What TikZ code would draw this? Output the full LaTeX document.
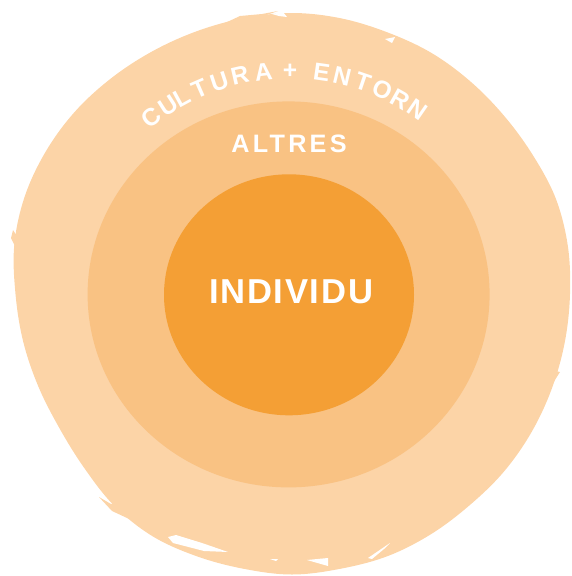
\documentclass[tikz,border=0pt]{standalone}
\usepackage{fontspec}
\setmainfont{Liberation Sans}
\newfontfamily\indfont[LetterSpace=5]{Liberation Sans}
\newfontfamily\altfont[LetterSpace=13]{Liberation Sans}
\newfontfamily\arcfont{Liberation Sans}
\usetikzlibrary{shapes.geometric}
\definecolor{outerc}{HTML}{FCD4A7}
\definecolor{midc}{HTML}{F9C283}
\definecolor{innerc}{HTML}{F49F35}
\tikzset{
  ring/.style={ellipse, inner sep=0pt, draw=none},
  lbl/.style={text=white, inner sep=0pt},
  arcletter/.style={text=white, inner sep=0pt, anchor=base, font=\arcfont\bfseries\fontsize{24.5}{28}\selectfont},
}
\begin{document}
\begin{tikzpicture}[x=1pt,y=-1pt]
\useasboundingbox (0,0) rectangle (572,576);
% outer rough disc (polar outline around (292,294))
\fill[outerc] plot[smooth cycle, tension=0.6] coordinates {
 ({292+278*cos(0)},{294-278*sin(0)})
 ({292+280*cos(10)},{294-280*sin(10)})
 ({292+280.5*cos(20)},{294-280.5*sin(20)})
 ({292+278*cos(30)},{294-278*sin(30)})
 ({292+277*cos(40)},{294-277*sin(40)})
 ({292+277.5*cos(50)},{294-277.5*sin(50)})
 ({292+278.5*cos(60)},{294-278.5*sin(60)})
 ({292+278.5*cos(70)},{294-278.5*sin(70)})
 ({292+280*cos(80)},{294-280*sin(80)})
 ({292+281*cos(90)},{294-281*sin(90)})
 ({292+280*cos(100)},{294-280*sin(100)})
 ({292+279.5*cos(110)},{294-279.5*sin(110)})
 ({292+280*cos(120)},{294-280*sin(120)})
 ({292+281.5*cos(130)},{294-281.5*sin(130)})
 ({292+283.5*cos(140)},{294-283.5*sin(140)})
 ({292+284.5*cos(150)},{294-284.5*sin(150)})
 ({292+284.5*cos(160)},{294-284.5*sin(160)})
 ({292+282*cos(170)},{294-282*sin(170)})
 ({292+276.5*cos(180)},{294-276.5*sin(180)})
 ({292+273*cos(190)},{294-273*sin(190)})
 ({292+270*cos(200)},{294-270*sin(200)})
 ({292+268.5*cos(210)},{294-268.5*sin(210)})
 ({292+271*cos(220)},{294-271*sin(220)})
 ({292+276.5*cos(230)},{294-276.5*sin(230)})
 ({292+279.5*cos(240)},{294-279.5*sin(240)})
 ({292+279*cos(250)},{294-279*sin(250)})
 ({292+279*cos(260)},{294-279*sin(260)})
 ({292+280.5*cos(270)},{294-280.5*sin(270)})
 ({292+279*cos(280)},{294-279*sin(280)})
 ({292+279*cos(290)},{294-279*sin(290)})
 ({292+277.5*cos(300)},{294-277.5*sin(300)})
 ({292+276*cos(310)},{294-276*sin(310)})
 ({292+276.5*cos(320)},{294-276.5*sin(320)})
 ({292+276.5*cos(330)},{294-276.5*sin(330)})
 ({292+276.5*cos(340)},{294-276.5*sin(340)})
 ({292+277*cos(350)},{294-277*sin(350)})};
% rough brush streaks
\fill[outerc] (99,497) -- (111,504) -- (117,502) -- (150,521) -- (140,524) -- (112,511) -- cycle;
\fill[outerc] (225,23) -- (240,16) -- (262,14) -- (278,11) -- (258,18) -- cycle;
\fill[outerc] (15,246) -- (11,238) -- (13,230) -- (17,236) -- cycle;
\fill[outerc] (560,372) -- (553,383) -- (556,371) -- cycle;
\fill[white] (168,537) -- (176,535) -- (202,543) -- (228,552) -- (204,551) -- (173,543) -- cycle;
\fill[white] (270,559) -- (278,559) -- (276,561) -- cycle;
\fill[white] (307,560) -- (328,558) -- (328,566) -- cycle;
\fill[white] (368,558) -- (390,543) -- (384,549) -- (372,559) -- cycle;
\fill[white] (385,39) -- (395,37) -- (392,43) -- cycle;
\fill[white] (272,14) -- (283,12) -- (287,17) -- (279,16) -- cycle;
% middle and inner discs
\node[ring, fill=midc, minimum width=402pt, minimum height=386pt] (altres) at (288.6,294.4) {};
\node[ring, fill=innerc, minimum width=250pt, minimum height=241pt] (individu) at (289,294.8) {};
% labels
\node[lbl, font=\indfont\bfseries\fontsize{34.6}{40}\selectfont] (indlbl) at (291,291.7) {INDIVIDU};
\node[lbl, font=\altfont\bfseries\fontsize{25.2}{30}\selectfont] (altlbl) at (289,144.2) {ALTRES};
\foreach \a/\c [count=\i] in {127.95/C,122.75/U,118.6/L,113.7/T,108.3/U,102.9/R,96.8/A,90/+,81.9/E,76.6/N,71.1/T,65.55/O,60.57/R,55.3/N}{
  \node[arcletter, rotate=\a-90] (arc\i) at ({290+216.5*cos(\a)},{295-216.5*sin(\a)}) {\c};
}
\end{tikzpicture}
\end{document}
